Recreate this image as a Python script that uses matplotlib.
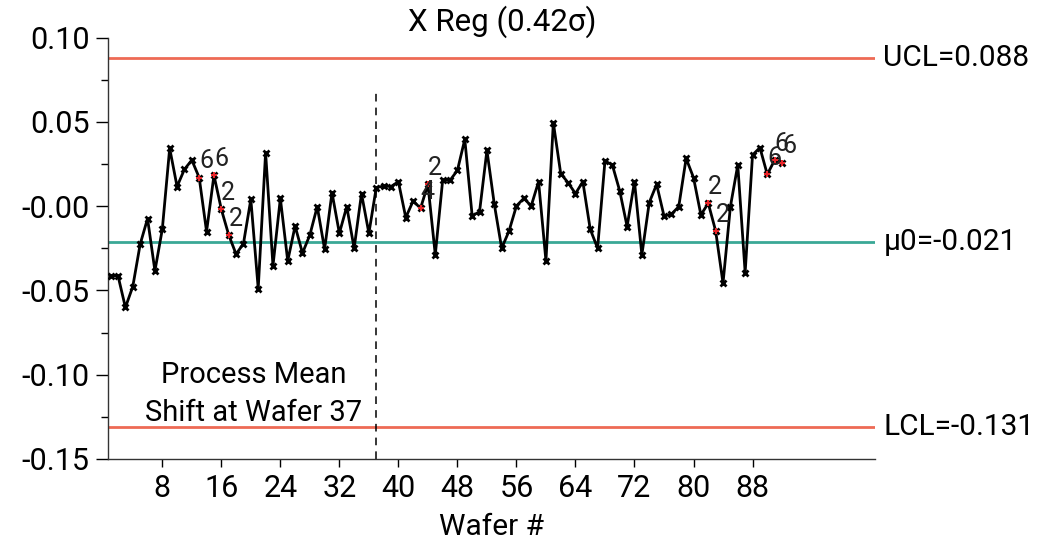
import matplotlib
matplotlib.use("Agg")
import matplotlib.pyplot as plt
from matplotlib.ticker import MultipleLocator

plt.rcParams['font.family'] = ['Roboto', 'DejaVu Sans']

wafer = list(range(1, 93))
values = [
    -0.0414, -0.0414, -0.0601, -0.0477, -0.0226, -0.0074, -0.0384, -0.0137, 0.0343, 0.0116,
    0.0218, 0.0273, 0.0169, -0.0151, 0.0183, -0.0019, -0.0171, -0.0285, -0.0222, 0.0040,
    -0.0489, 0.0317, -0.0354, 0.0046, -0.0325, -0.0118, -0.0279, -0.0171, -0.0003, -0.0256,
    0.0080, -0.0161, -0.0003, -0.0250, 0.0074, -0.0161, 0.0110, 0.0119, 0.0116, 0.0145,
    -0.0068, 0.0031, -0.0013, 0.0129, -0.0289, 0.0153, 0.0153, 0.0212, 0.0396, -0.0058,
    -0.0033, 0.0331, 0.0011, -0.0250, -0.0147, 0.0001, 0.0046, 0.0001, 0.0145, -0.0325,
    0.0495, 0.0193, 0.0139, 0.0074, 0.0145, -0.0137, -0.0250, 0.0268, 0.0244, 0.0090,
    -0.0121, 0.0145, -0.0289, 0.0021, 0.0129, -0.0058, -0.0048, -0.0003, 0.0283, 0.0169,
    -0.0052, 0.0017, -0.0147, -0.0457, -0.0003, 0.0244, -0.0394, 0.0303, 0.0347, 0.0188,
    0.0273, 0.0258,
]
violation_wafers = [13, 15, 16, 17, 43, 44, 82, 83, 90, 91, 92]
violation_labels = ["6", "6", "2", "2", "4", "2", "2", "2", "6", "6", "6"]

ucl = 0.088
mu0 = -0.021
lcl = -0.131
shift_wafer = 37

xticks = [8, 16, 24, 32, 40, 48, 56, 64, 72, 80, 88]
yticks = [0.10, 0.05, 0.00, -0.05, -0.10, -0.15]
ytick_labels = ["0.10", "0.05", "-0.00", "-0.05", "-0.10", "-0.15"]

fig = plt.figure(figsize=(10.4, 5.45), dpi=100)
ax = fig.add_axes([108.3 / 1040, 1 - 459 / 545, (875 - 108.3) / 1040, (459 - 37.5) / 545])

red_col = '#EE6A55'
teal_col = '#3AA896'

ax.axhline(ucl, color=red_col, lw=2, zorder=1)
ax.axhline(lcl, color=red_col, lw=2, zorder=1)
ax.axhline(mu0, color=teal_col, lw=2, zorder=1)

ax.plot(wafer, values, color='black', lw=2, marker='x', ms=5, mew=2, zorder=3)

vx = [wafer[w - 1] for w in violation_wafers]
vy = [values[w - 1] for w in violation_wafers]
ax.plot(vx, vy, ls='none', marker='+', ms=5, mew=1.5, color='#E8262A', zorder=4)
for i, (x, y, lab) in enumerate(zip(vx, vy, violation_labels)):
    ax.annotate(lab, (x, y), xytext=(0, 3), textcoords='offset points',
                ha='left', va='bottom', fontsize=18, color='#222222', zorder=5)

ax.plot([shift_wafer, shift_wafer], [-0.15, 0.070], color='black', lw=1.1,
        ls=(0, (5, 4)), zorder=2)

ax.text(20.4, -0.1000, "Process Mean", ha='center', va='center', fontsize=21)
ax.text(20.4, -0.1225, "Shift at Wafer 37", ha='center', va='center', fontsize=21)

for val, lab in [(ucl, "UCL=0.088"), (mu0, "\u03bc0=-0.021"), (lcl, "LCL=-0.131")]:
    ax.annotate(lab, (1.0, val), xycoords=('axes fraction', 'data'),
                xytext=(6, 0), textcoords='offset points', ha='left', va='center',
                fontsize=21.5, annotation_clip=False)

ax.set_xlim(0.68, 104.6)
ax.set_ylim(-0.15, 0.10)
ax.set_xticks(xticks)
ax.set_xticklabels([str(t) for t in xticks])
ax.set_yticks(yticks)
ax.set_yticklabels(ytick_labels)
ax.yaxis.set_minor_locator(MultipleLocator(0.025))
ax.tick_params(axis='both', which='major', labelsize=22, length=8.5, width=1, direction='out', pad=5)
ax.tick_params(axis='y', which='minor', length=5, width=1)
ax.tick_params(axis='x', which='major', length=6)

for s in ['top', 'right']:
    ax.spines[s].set_visible(False)
for s in ['left', 'bottom']:
    ax.spines[s].set_linewidth(1)
    ax.spines[s].set_color('#333333')

ax.set_xlabel("Wafer #", fontsize=21.5, labelpad=7)
fig.text(502 / 1040, 1 - 22 / 545, "X Reg (0.42\u03c3)", ha='center', va='center', fontsize=22.5)

fig.savefig("out.png", dpi=100)
